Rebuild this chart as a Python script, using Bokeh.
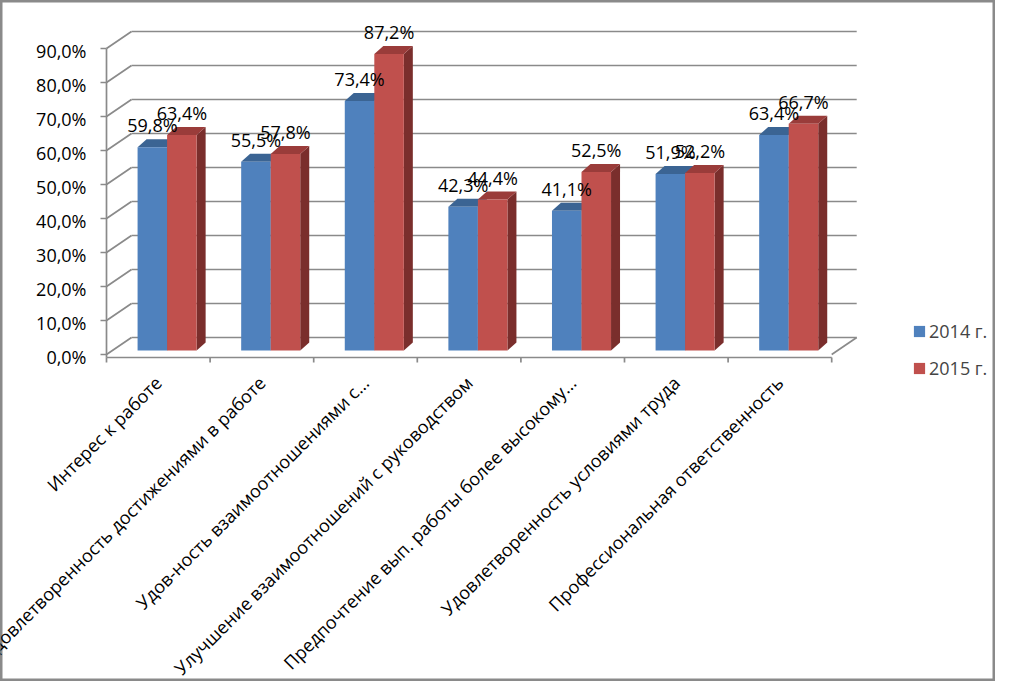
import math
from bokeh.plotting import figure
from bokeh.models import Legend, LegendItem, Range1d
from bokeh.embed import file_html
from bokeh.resources import INLINE
from bokeh.core.properties import value

# ---------------- data ----------------
categories = [
    "Интерес к работе",
    "Удовлетворенность достижениями в работе",
    "Удов-ность взаимоотношениями с...",
    "Улучшение взаимоотношений с руководством",
    "Предпочтение вып. работы более высокому...",
    "Удовлетворенность условиями труда",
    "Профессиональная ответственность",
]
series_names = ["2014 г.", "2015 г."]
values_2014 = [59.8, 55.5, 73.4, 42.3, 41.1, 51.9, 63.4]
values_2015 = [63.4, 57.8, 87.2, 44.4, 52.5, 52.2, 66.7]
y_ticks = [0, 10, 20, 30, 40, 50, 60, 70, 80, 90]
y_tick_labels = ["0,0%", "10,0%", "20,0%", "30,0%", "40,0%", "50,0%",
                 "60,0%", "70,0%", "80,0%", "90,0%"]

# ---------------- styling / geometry ----------------
FONT = value("Open Sans")
FS = value("18px")
GRID = "#8a8a8a"
LW = 1.7
front_colors = ["#4F81BD", "#C0504D"]
top_colors = ["#3B6493", "#9A3C3A"]
side_colors = ["#365A86", "#7A2E2C"]

W, H = 995, 681
ORIGIN_X, ORIGIN_Y = 106, 354   # screen position of (first category edge, 0 %)
PX_X = 103.6     # pixels per category
PX_Y = 3.4       # pixels per percent
x_start = -0.5 - ORIGIN_X / PX_X
y_start = -(H - ORIGIN_Y) / PX_Y

n = len(categories)
X0 = -0.5                 # left edge of category axis
AX_Y = -3 / PX_Y          # level of the category axis line
WDX = 25 / PX_X           # wall depth
WDY = 17 / PX_Y
BASE = 4 / PX_Y           # bar base raise
DX = 9 / PX_X             # bar depth
DY = 8 / PX_Y
bar_left = [-0.20, 0.085]
bar_w = 0.285

p = figure(width=W, height=H, output_backend="svg", toolbar_location=None,
           title=None, x_axis_type=None, y_axis_type=None,
           x_range=Range1d(x_start, x_start + W / PX_X),
           y_range=Range1d(y_start, y_start + H / PX_Y),
           min_border=0)
p.grid.visible = False
p.background_fill_color = "white"
p.border_fill_color = "white"
p.outline_line_color = "#8a8a8a"
p.outline_line_width = 4

# back wall gridlines
m = len(y_ticks)
p.segment(x0=[X0 + WDX] * m, y0=[t + WDY for t in y_ticks],
          x1=[X0 + n + WDX] * m, y1=[t + WDY for t in y_ticks],
          line_color=GRID, line_width=LW)
# side wall diagonals
p.segment(x0=[X0] * m, y0=y_ticks, x1=[X0 + WDX] * m, y1=[t + WDY for t in y_ticks],
          line_color=GRID, line_width=LW)
# floor right edge
p.segment(x0=[X0 + n], y0=[0], x1=[X0 + n + WDX], y1=[WDY],
          line_color=GRID, line_width=LW)

# value axis: line, ticks, labels
p.segment(x0=[X0], y0=[AX_Y], x1=[X0], y1=[y_ticks[-1]], line_color=GRID, line_width=LW)
p.segment(x0=[X0 - 6 / PX_X] * m, y0=y_ticks, x1=[X0] * m, y1=y_ticks,
          line_color=GRID, line_width=LW)
p.text(x=[X0] * m, y=y_ticks, text=y_tick_labels, x_offset=-20, y_offset=2,
       text_align="right", text_baseline="middle",
       text_font=FONT, text_font_size=FS, text_color="black")

# category axis: line, ticks, labels
p.segment(x0=[X0], y0=[AX_Y], x1=[X0 + n], y1=[AX_Y], line_color=GRID, line_width=LW)
p.segment(x0=[X0 + i for i in range(n + 1)], y0=[AX_Y] * (n + 1),
          x1=[X0 + i for i in range(n + 1)], y1=[AX_Y - 5 / PX_Y] * (n + 1),
          line_color=GRID, line_width=LW)
p.text(x=list(range(n)), y=[AX_Y] * n, text=categories, angle=math.pi / 4,
       x_offset=0, y_offset=22, text_align="right", text_baseline="middle",
       text_font=FONT, text_font_size=FS, text_color="black")

# 3D bars
fronts = []
for s, vals in enumerate([values_2014, values_2015]):
    x0 = [i + bar_left[s] for i in range(n)]
    x1 = [a + bar_w for a in x0]
    tops = [v + BASE for v in vals]
    p.patches(xs=[[b, b, b + DX, b + DX] for b in x1],
              ys=[[BASE, t, t + DY, BASE + DY] for t in tops],
              fill_color=side_colors[s], line_color=None)
    p.patches(xs=[[a, b, b + DX, a + DX] for a, b in zip(x0, x1)],
              ys=[[t, t, t + DY, t + DY] for t in tops],
              fill_color=top_colors[s], line_color=None)
    r = p.quad(left=x0, right=x1, bottom=[BASE] * n, top=tops,
               fill_color=front_colors[s], line_color=None)
    fronts.append(r)

# data labels
for s, vals in enumerate([values_2014, values_2015]):
    xc = [i + bar_left[s] + bar_w / 2 for i in range(n)]
    labels = [f"{v:.1f}%".replace(".", ",") for v in vals]
    p.text(x=xc, y=[v + BASE for v in vals], text=labels,
           text_align="center", text_baseline="middle", y_offset=-22,
           text_font=FONT, text_font_size=FS, text_color="black")

legend = Legend(items=[LegendItem(label=series_names[i], renderers=[fronts[i]]) for i in range(2)],
                location=(912, 301), border_line_color=None, background_fill_alpha=0,
                padding=0, margin=0, spacing=13, label_standoff=3,
                glyph_width=14, glyph_height=14, label_height=20,
                label_text_font="Open Sans", label_text_font_size="18px")
p.add_layout(legend)

open("out.html", "w").write(file_html(p, INLINE))
